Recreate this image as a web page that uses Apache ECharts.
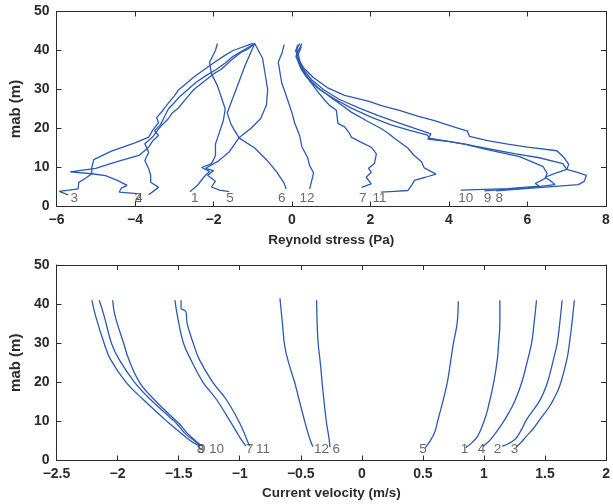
<!DOCTYPE html>
<html>
<head>
<meta charset="utf-8">
<script src="https://cdn.jsdelivr.net/npm/echarts@6/dist/echarts.min.js"></script>
<style>
  html, body { margin: 0; padding: 0; background: #ffffff; }
  #chart { width: 613px; height: 504px; }
</style>
</head>
<body>
<div id="chart"></div>
<script>
// ---- Reynolds stress profiles: [stress (Pa), height above bed (m)] ----
const stress1 = [[-2.6,3.8],[-2.4,5.5],[-2.25,7.5],[-2.1,9],[-2.3,10],[-2.05,11],[-1.95,13],[-1.95,16],[-1.85,19],[-1.75,22],[-1.7,25],[-1.8,28],[-1.9,31],[-2.05,34],[-2.1,37],[-1.95,40],[-1.9,41.8]];
const stress2 = [[-3.65,3.0],[-3.4,4.9],[-3.6,6.2],[-3.6,8],[-3.65,9.7],[-3.75,11.8],[-3.65,13.9],[-3.75,16.1],[-3.55,17.8],[-3.45,19.2],[-3.35,20.5],[-3.15,22.5],[-3.05,24],[-2.9,25.2],[-2.75,27],[-2.6,28.8],[-2.5,30],[-2.25,32],[-2.0,34],[-1.8,35.2],[-1.55,37.5],[-1.3,39.5],[-1.1,40.5],[-0.95,41.8]];
const stress3 = [[-5.7,3.0],[-5.93,3.9],[-5.45,4.5],[-5.43,6.2],[-5.25,7.3],[-5.1,8.4],[-5.1,10],[-5.05,12],[-4.6,14.2],[-4.0,16.3],[-3.65,17.8],[-3.55,19.5],[-3.4,21.5],[-3.45,22.8],[-3.3,24.5],[-3.15,26.5],[-3.0,28.3],[-2.9,29.8],[-2.7,31.5],[-2.5,33.2],[-2.25,35],[-2.0,36.8],[-1.75,38.5],[-1.5,40],[-1.0,41.8]];
const stress4 = [[-3.95,3.3],[-4.4,3.7],[-4.35,4.7],[-4.2,5.4],[-4.45,6.7],[-4.75,7.9],[-5.1,8.4],[-5.65,8.9],[-5.0,9.8],[-4.5,11.4],[-3.9,13.1],[-3.65,15.2],[-3.55,16.8],[-3.4,18.2],[-3.5,19.4],[-3.35,21],[-3.25,23],[-3.15,25],[-3.0,26.6],[-2.85,28.3],[-2.65,30],[-2.45,31.8],[-2.2,33.5],[-1.95,35],[-1.7,36.8],[-1.5,38.5],[-1.25,40],[-0.95,41.8]];
const stress5 = [[-1.6,3.8],[-1.85,4.2],[-2.05,5],[-1.95,6.5],[-2.15,8],[-2.0,9.2],[-2.2,9.8],[-1.9,11.5],[-1.6,14],[-1.35,17.6],[-1.05,20],[-0.8,22.5],[-0.65,26],[-0.62,30],[-0.7,35],[-0.75,38],[-0.95,41.8]];
const stress6 = [[-0.15,4.5],[-0.2,6],[-0.4,9],[-0.65,12],[-0.95,15],[-1.35,17.6],[-1.55,21],[-1.65,24],[-1.5,28],[-1.35,32],[-1.2,36],[-1.05,39.5],[-0.95,41.8]];
const stress7 = [[1.77,4.9],[2.02,5.8],[1.89,7.5],[2.02,8.8],[1.95,9.8],[2.1,11],[2.15,13.5],[2.02,15.2],[1.75,16.5],[1.51,17.8],[1.45,19],[1.34,20.4],[1.17,21.3],[1.15,23],[1.13,24.7],[0.95,26],[0.83,27.3],[0.65,29.5],[0.5,31.6],[0.35,33.5],[0.24,35.1],[0.16,37.7],[0.12,39],[0.16,40.5]];
const stress8 = [[5.2,4.0],[6.2,4.8],[7.3,5.6],[7.45,6.5],[7.5,8],[7.25,8.8],[7.0,9.5],[7.05,10.8],[6.95,12.3],[6.75,14.3],[6.0,15.2],[5.5,16],[4.98,16.9],[4.52,18],[4.47,19.3],[4.1,20.5],[3.63,22],[3.2,23.2],[2.78,24.5],[2.3,25.8],[1.94,27],[1.34,28.5],[0.9,30.5],[0.55,33],[0.3,35.5],[0.15,38],[0.1,40],[0.2,41.8]];
const stress9 = [[4.9,4.0],[6.0,4.8],[6.7,5.6],[6.6,6.5],[6.45,7.5],[6.7,8.5],[7.0,9.5],[6.9,11],[6.3,12.5],[5.7,13.5],[4.9,15],[4.4,16],[3.9,16.8],[3.46,17.3],[3.54,18.6],[3.2,19.8],[2.7,21.5],[2.2,23.3],[1.7,25.3],[1.2,27.5],[0.8,30],[0.5,32.5],[0.3,35],[0.15,38],[0.1,40],[0.15,41.5]];
const stress10 = [[4.3,4.2],[5.5,4.6],[6.3,5.2],[6.2,5.9],[6.45,7.2],[6.5,8.5],[6.4,10.2],[5.8,12.8],[5.0,14.5],[4.4,16],[3.9,16.8],[3.5,17.5],[3.45,18.3],[3.0,19.5],[2.5,21],[2.0,23],[1.5,25.3],[1.1,27.5],[0.7,30],[0.4,33],[0.2,36],[0.1,38.5],[0.25,41.8]];
const stress11 = [[2.27,3.7],[2.6,3.9],[2.95,4.1],[3.05,5.5],[3.12,6.7],[3.4,7.5],[3.67,8.3],[3.37,9.9],[3.3,11.5],[3.1,13.2],[2.95,15],[2.61,17.5],[2.45,18.8],[2.27,20],[1.9,22],[1.51,24.2],[1.2,26.5],[0.92,28.5],[0.65,30.5],[0.41,32.8],[0.24,35.6],[0.16,39],[0.24,41]];
const stress12 = [[0.45,4.5],[0.5,6.5],[0.55,8.6],[0.45,10.5],[0.4,12.5],[0.25,15.4],[0.2,18],[0.07,21.4],[0.0,24],[-0.1,27],[-0.2,30],[-0.26,31.6],[-0.3,34],[-0.35,37],[-0.25,39.5],[-0.2,41.5]];

// ---- Current velocity profiles: [velocity (m/s), height above bed (m)] ----
const vel1 = [[0.85,3.3],[0.9,4.5],[0.95,6.3],[1.0,10],[1.03,13],[1.08,20],[1.11,26],[1.12,30],[1.13,35],[1.13,41]];
const vel2 = [[1.15,3.6],[1.25,5.3],[1.3,7.5],[1.35,10.5],[1.46,15.5],[1.52,20],[1.57,26],[1.6,30],[1.62,35],[1.64,41]];
const vel3 = [[1.27,3.6],[1.3,4.5],[1.35,6.3],[1.4,8],[1.46,10.6],[1.54,14],[1.6,17.5],[1.63,20],[1.68,26],[1.7,30],[1.72,35],[1.74,41]];
const vel4 = [[0.99,3.6],[1.03,4.6],[1.07,6],[1.14,9],[1.2,12],[1.25,15],[1.31,20],[1.36,26],[1.39,30],[1.41,35],[1.43,41]];
const vel5 = [[0.52,3.3],[0.56,5],[0.6,7.5],[0.62,10],[0.65,13.5],[0.7,20],[0.73,26],[0.75,30],[0.78,35],[0.79,40.7]];
const vel6 = [[-0.26,3.4],[-0.27,6],[-0.29,9.8],[-0.32,18.3],[-0.34,25],[-0.36,31],[-0.37,41]];
const vel7 = [[-0.95,3.7],[-1.0,6],[-1.07,9.6],[-1.19,15.6],[-1.3,20],[-1.4,25.8],[-1.46,30],[-1.51,37],[-1.53,41]];
const vel8 = [[-1.33,3.7],[-1.4,5],[-1.48,7],[-1.58,9.6],[-1.63,11],[-1.79,15.6],[-1.93,20],[-2.06,26],[-2.11,30],[-2.18,37],[-2.21,41]];
const vel9 = [[-1.32,3.7],[-1.37,5],[-1.45,7],[-1.52,9.6],[-1.57,11],[-1.73,15.6],[-1.86,20],[-1.99,26],[-2.05,30],[-2.11,37],[-2.15,41]];
const vel10 = [[-1.31,3.7],[-1.36,5],[-1.43,7],[-1.5,9.6],[-1.55,11],[-1.7,15.6],[-1.82,20],[-1.91,26],[-1.95,30],[-2.02,37],[-2.04,41]];
const vel11 = [[-0.92,3.7],[-0.95,6],[-1.0,9.6],[-1.11,15.6],[-1.22,20],[-1.33,25.8],[-1.38,30],[-1.43,35],[-1.44,38],[-1.48,39],[-1.48,41]];
const vel12 = [[-0.4,3.5],[-0.42,5],[-0.45,8],[-0.47,10.3],[-0.52,16.3],[-0.55,20],[-0.59,24],[-0.63,29],[-0.65,35],[-0.67,41.5]];

// ---- Profile number tags written along the bed ----
const stressTagText = ['3','2','4','1','5','6','12','7','11','10','9','8'];
const stressTagX    = [-5.55,-3.92,-3.9,-2.48,-1.58,-0.26,0.38,1.8,2.23,4.43,4.98,5.28];
const stressTagY    = 2.2;
const velTagText = ['8','9','10','7','11','12','6','5','1','4','2','3'];
const velTagX    = [-1.32,-1.31,-1.19,-0.92,-0.81,-0.33,-0.21,0.5,0.84,0.98,1.11,1.25];
const velTagY    = 2.8;

const stressProfiles = [stress1,stress2,stress3,stress4,stress5,stress6,stress7,stress8,stress9,stress10,stress11,stress12];
const velProfiles = [vel1,vel2,vel3,vel4,vel5,vel6,vel7,vel8,vel9,vel10,vel11,vel12];

const LINE = '#2a5ab2';
const INK = '#2b2b2b';
const FONT = 'Liberation Sans';
const minus = v => String(v).replace('-', '\u2212');

function valueAxis(grid, pos, min, max, step, showLabel) {
  return {
    type: 'value', gridIndex: grid, position: pos, min: min, max: max, interval: step,
    axisLine: { show: true, onZero: false, lineStyle: { color: INK, width: 1 } },
    axisTick: { show: true, inside: true, length: 5, lineStyle: { color: INK } },
    splitLine: { show: false },
    axisLabel: { show: showLabel, color: INK, fontFamily: FONT, fontWeight: 'bold', fontSize: 14, margin: 7, formatter: minus }
  };
}
function named(ax, name, gap, size) {
  return Object.assign(ax, {
    name: name, nameLocation: 'middle', nameGap: gap,
    nameTextStyle: { color: INK, fontFamily: FONT, fontWeight: 'bold', fontSize: size }
  });
}

const xAxes = [
  named(valueAxis(0, 'bottom', -6, 8, 2, true), 'Reynold stress (Pa)', 27, 13.5),
  valueAxis(0, 'top', -6, 8, 2, false),
  named(valueAxis(1, 'bottom', -2.5, 2, 0.5, true), 'Current velocity (m/s)', 26, 13.5),
  valueAxis(1, 'top', -2.5, 2, 0.5, false)
];
const yAxes = [
  named(valueAxis(0, 'left', 0, 50, 10, true), 'mab (m)', 22, 15),
  valueAxis(0, 'right', 0, 50, 10, false),
  named(valueAxis(1, 'left', 0, 50, 10, true), 'mab (m)', 22, 15),
  valueAxis(1, 'right', 0, 50, 10, false)
];

const series = [];
stressProfiles.forEach((d, i) => series.push({
  type: 'line', name: 'stress ' + (i + 1), xAxisIndex: 0, yAxisIndex: 0, data: d,
  showSymbol: false, symbol: 'none', lineStyle: { color: LINE, width: 1.3 }, z: 2
}));
velProfiles.forEach((d, i) => series.push({
  type: 'line', name: 'velocity ' + (i + 1), xAxisIndex: 2, yAxisIndex: 2, data: d,
  showSymbol: false, symbol: 'none', smooth: 0.4, lineStyle: { color: LINE, width: 1.3 }, z: 2
}));

function tagSeries(xi, yi, texts, xs, y) {
  return {
    type: 'scatter', xAxisIndex: xi, yAxisIndex: yi, symbolSize: 0, silent: true, z: 3,
    data: texts.map((t, i) => ({ name: t, value: [xs[i], y] })),
    label: { show: true, position: 'inside', formatter: '{b}', color: '#444444',
             fontFamily: FONT, fontSize: 13.5 }
  };
}
series.push(tagSeries(0, 0, stressTagText, stressTagX, stressTagY));
series.push(tagSeries(2, 2, velTagText, velTagX, velTagY));

const chart = echarts.init(document.getElementById('chart'), null, { renderer: 'canvas' });
chart.setOption({
  animation: false,
  backgroundColor: '#ffffff',
  grid: [
    { left: 53, top: 11.5, width: 553, height: 195 },
    { left: 56, top: 265, width: 555, height: 195.5 }
  ],
  xAxis: xAxes,
  yAxis: yAxes,
  series: series
});
</script>
</body>
</html>
